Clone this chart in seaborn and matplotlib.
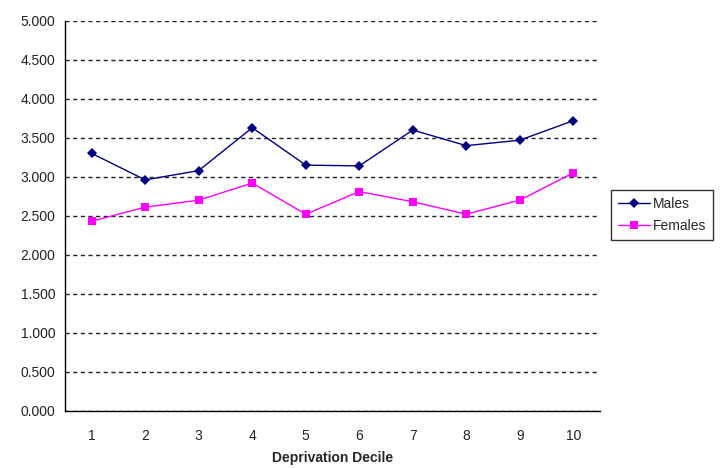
import matplotlib
matplotlib.use("Agg")
import matplotlib.pyplot as plt
import seaborn as sns
import pandas as pd
from matplotlib.ticker import FixedLocator, FuncFormatter

deciles = [1, 2, 3, 4, 5, 6, 7, 8, 9, 10]
males = [3.30, 2.96, 3.08, 3.63, 3.15, 3.14, 3.60, 3.40, 3.47, 3.72]
females = [2.43, 2.61, 2.70, 2.92, 2.52, 2.81, 2.68, 2.52, 2.70, 3.05]
series_names = ["Males", "Females"]
series_colors = {"Males": "#000080", "Females": "#FF00FF"}
series_markers = {"Males": "D", "Females": "s"}

df = pd.DataFrame({
    "Deprivation Decile": deciles * 2,
    "value": males + females,
    "series": [series_names[0]] * len(deciles) + [series_names[1]] * len(deciles),
})

sns.set_theme(style="white")
plt.rcParams["font.family"] = ["Liberation Sans", "DejaVu Sans"]

fig = plt.figure(figsize=(7.25, 4.68), dpi=100)
ax = fig.add_axes([65 / 725, 1 - 410.5 / 468, (600 - 65) / 725, (410.5 - 21) / 468])

for name in series_names:
    sub = df[df["series"] == name]
    sns.lineplot(
        data=sub, x="Deprivation Decile", y="value", ax=ax,
        color=series_colors[name], marker=series_markers[name],
        markersize=5 if name == "Males" else 6, markeredgewidth=0,
        linewidth=1.0, label=name,
    )

ax.set_xlim(0.5, 10.5)
ax.set_ylim(0, 5)

# y axis: dashed grid every 0.5
yticks = [i * 0.5 for i in range(11)]
ax.set_yticks(yticks)
ax.yaxis.set_major_formatter(FuncFormatter(lambda v, p: f"{v:.3f}"))
ax.yaxis.grid(True, linestyle=(0, (3, 2.5)), color="#222222", linewidth=1.0)
ax.tick_params(axis="y", which="major", direction="out", length=4, width=1,
               color="black", labelsize=10, pad=3, labelcolor="#222222")

# x axis: category labels centred, tick marks between categories
ax.set_xticks(deciles)
ax.xaxis.set_minor_locator(FixedLocator([d - 0.5 for d in deciles] + [10.5]))
ax.tick_params(axis="x", which="major", length=0, labelsize=10, pad=13, labelcolor="#222222")
ax.tick_params(axis="x", which="minor", direction="out", length=4, width=1, color="black")
ax.set_xlabel("Deprivation Decile", fontsize=10, fontweight="bold", labelpad=6)
ax.set_ylabel("")

for side in ["top", "right"]:
    ax.spines[side].set_visible(False)
for side in ["left", "bottom"]:
    ax.spines[side].set_color("black")
    ax.spines[side].set_linewidth(1.0)

leg = ax.legend(
    loc="upper left", bbox_to_anchor=(611 / 725, 1 - 190 / 468),
    bbox_transform=fig.transFigure, frameon=True, fancybox=False,
    edgecolor="black", fontsize=10, handlelength=2.3, handletextpad=0.2,
    borderpad=0.5, labelspacing=0.6, borderaxespad=0,
)
leg.get_frame().set_linewidth(1.0)

fig.savefig("out.png", dpi=100, facecolor="white")
